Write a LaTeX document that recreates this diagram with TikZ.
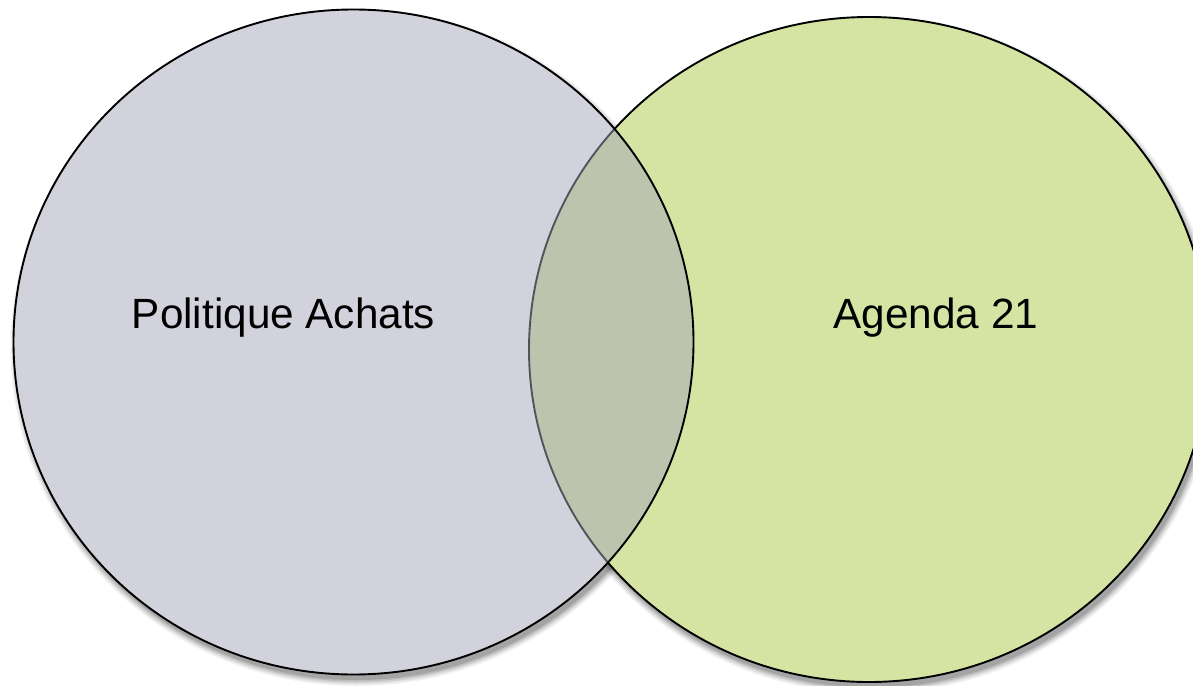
\documentclass[tikz,border=0pt]{standalone}
\usepackage{fontspec}
\setmainfont{Liberation Sans}
\usetikzlibrary{shapes.geometric}
\definecolor{leftfill}{RGB}{165,167,185}
\definecolor{rightfill}{RGB}{213,227,163}
\tikzset{
  venn/.style={ellipse, inner sep=0pt, minimum width=680pt, minimum height=665pt, draw=black, line width=1.9pt},
  shadowlayer/.style={ellipse, inner sep=0pt, fill=black},
  lbl/.style={font=\fontsize{42.3}{48}\selectfont, text=black, inner sep=0pt, anchor=base}
}
\begin{document}
\begin{tikzpicture}[x=1pt,y=-1pt]
\useasboundingbox (0,0) rectangle (1193,685);
\fill[white] (0,0) rectangle (1193,685);
% soft shadows
\foreach \r/\o in {12/0.05,9/0.06,6/0.08,3/0.10,0/0.12}{
  \node[shadowlayer, fill opacity=\o, minimum width=680pt+\r pt, minimum height=665pt+\r pt] (shR\r) at (872,355) {};
  \node[shadowlayer, fill opacity=\o, minimum width=680pt+\r pt, minimum height=665pt+\r pt] (shL\r) at (356.5,347.5) {};
}
\node[ellipse, inner sep=0pt, minimum width=680pt, minimum height=665pt, fill=white] (Lbase) at (353.5,342) {};
\node[venn, fill=rightfill] (R) at (869,349.5) {};
\node[venn, fill=leftfill, fill opacity=0.5] (L) at (353.5,342) {};
\node[lbl] (tL) at (283.5,328) {Politique Achats};
\node[lbl] (tR) at (936,328) {Agenda 21};
\end{tikzpicture}
\end{document}
